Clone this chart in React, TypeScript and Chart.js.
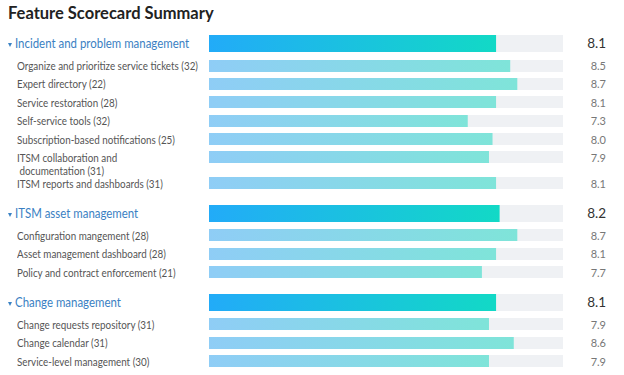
import React, { useEffect, useRef } from "react";
import { Chart, registerables } from "chart.js";

Chart.register(...registerables);

const titleText = "Feature Scorecard Summary";
const groupNames = ["Incident and problem management", "ITSM asset management", "Change management"];
const groupScores = [8.1, 8.2, 8.1];
const featureGroups = [0, 0, 0, 0, 0, 0, 0, 1, 1, 1, 2, 2, 2];
const featureNames = [
  "Organize and prioritize service tickets",
  "Expert directory",
  "Service restoration",
  "Self-service tools",
  "Subscription-based notifications",
  "ITSM collaboration and\n documentation",
  "ITSM reports and dashboards",
  "Configuration mangement",
  "Asset management dashboard",
  "Policy and contract enforcement",
  "Change requests repository",
  "Change calendar",
  "Service-level management",
];
const featureCounts = [32, 22, 28, 32, 25, 31, 31, 28, 28, 21, 31, 31, 30];
const featureScores = [8.5, 8.7, 8.1, 7.3, 8.0, 7.9, 8.1, 8.7, 8.1, 7.7, 7.9, 8.6, 7.9];
const scaleMin = 0;
const scaleMax = 10;

const FONT = "Lato, 'Open Sans', sans-serif";
const BAR_LEFT = 209;
const BAR_WIDTH = 354;
const VALUE_RIGHT = 606;

type Kind = "header" | "sub";

function ScoreBar({ value, kind }: { value: number; kind: Kind }) {
  const ref = useRef<HTMLCanvasElement | null>(null);
  const h = kind === "header" ? 17 : 12;
  useEffect(() => {
    if (!ref.current) return;
    const c0 = kind === "header" ? "#22abf8" : "#8fcdf6";
    const c1 = kind === "header" ? "#12d9c6" : "#7fe4d9";
    const chart = new Chart(ref.current, {
      type: "bar",
      data: {
        labels: [""],
        datasets: [
          {
            data: [value],
            grouped: false,
            order: 0,
            borderWidth: 0,
            backgroundColor: (ctx: any) => {
              const ch = ctx.chart;
              const area = ch.chartArea;
              if (!area) return c0;
              const end = ch.scales.x.getPixelForValue(value);
              const g = ch.ctx.createLinearGradient(area.left, 0, end, 0);
              g.addColorStop(0, c0);
              g.addColorStop(1, c1);
              return g;
            },
          } as any,
          {
            data: [scaleMax],
            grouped: false,
            order: 1,
            borderWidth: 0,
            backgroundColor: "#eff1f4",
          } as any,
        ],
      },
      options: {
        indexAxis: "y",
        responsive: false,
        animation: false,
        events: [],
        layout: { padding: 0 },
        datasets: { bar: { barPercentage: 1, categoryPercentage: 1 } },
        plugins: { legend: { display: false }, tooltip: { enabled: false } },
        scales: {
          x: { display: false, min: scaleMin, max: scaleMax },
          y: { display: false },
        },
      } as any,
    });
    return () => chart.destroy();
  }, [value, kind]);
  return (
    <canvas
      ref={ref}
      width={BAR_WIDTH}
      height={h}
      style={{ position: "absolute", left: BAR_LEFT, top: 0, width: BAR_WIDTH, height: h }}
    />
  );
}

function HeaderRow({ name, score }: { name: string; score: number }) {
  return (
    <div style={{ position: "relative", height: 24.5 }}>
      <span
        style={{
          position: "absolute",
          left: 7.5,
          top: 8,
          width: 0,
          height: 0,
          borderLeft: "2.5px solid transparent",
          borderRight: "2.5px solid transparent",
          borderTop: "4px solid #3b82c4",
        }}
      />
      <div
        style={{
          position: "absolute",
          left: 15,
          top: 0,
          lineHeight: "17px",
          fontSize: 13,
          color: "#3a7fc3",
          whiteSpace: "nowrap",
          transform: "scaleX(0.88)",
          transformOrigin: "0 50%",
        }}
      >
        {name}
      </div>
      <ScoreBar value={score} kind="header" />
      <div
        style={{
          position: "absolute",
          right: 624 - VALUE_RIGHT,
          top: 0,
          lineHeight: "17px",
          fontSize: 13.5,
          color: "#333",
        }}
      >
        {score.toFixed(1)}
      </div>
    </div>
  );
}

function SubRow({ name, count, score, height }: { name: string; count: number; score: number; height: number }) {
  return (
    <div style={{ position: "relative", height }}>
      <div
        style={{
          position: "absolute",
          left: 17,
          top: -0.5,
          lineHeight: "13px",
          fontSize: 11.5,
          color: "#555",
          whiteSpace: "pre",
          transform: "scaleX(0.855)",
          transformOrigin: "0 50%",
        }}
      >
        {name + " (" + count + ")"}
      </div>
      <ScoreBar value={score} kind="sub" />
      <div
        style={{
          position: "absolute",
          right: 624 - VALUE_RIGHT,
          top: -0.5,
          lineHeight: "13px",
          fontSize: 11,
          color: "#777",
        }}
      >
        {score.toFixed(1)}
      </div>
    </div>
  );
}

export default function App() {
  return (
    <div
      style={{
        position: "fixed",
        left: 0,
        top: 0,
        width: 624,
        height: 375,
        background: "#fff",
        fontFamily: FONT,
        overflow: "hidden",
      }}
    >
      <div
        style={{
          height: 35,
          lineHeight: "26px",
          fontSize: 16.5,
          fontWeight: 700,
          color: "#222",
          paddingLeft: 8,
        }}
      >
        {titleText}
      </div>
      {groupNames.map((g, gi) => {
        const idx = featureGroups.map((fg, i) => (fg === gi ? i : -1)).filter((i) => i >= 0);
        return (
          <div key={gi}>
            <HeaderRow name={g} score={groupScores[gi]} />
            {idx.map((i, k) => {
              const last = k === idx.length - 1;
              const twoLine = featureNames[i].includes("\n");
              const height = last ? 27.5 : twoLine ? 26 : 18.4;
              return (
                <SubRow key={i} name={featureNames[i]} count={featureCounts[i]} score={featureScores[i]} height={height} />
              );
            })}
          </div>
        );
      })}
    </div>
  );
}
